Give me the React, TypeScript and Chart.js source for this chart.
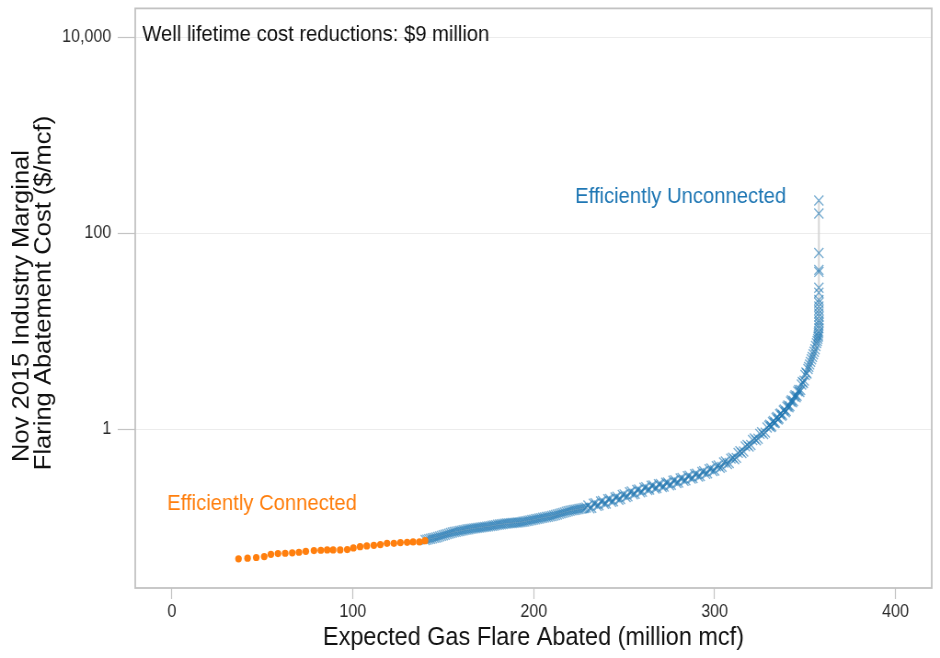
import React, { useEffect, useRef } from 'react';
import { Chart, registerables } from 'chart.js';

Chart.register(...registerables);

// ---------- data ----------
const X_TICKS = [0, 100, 200, 300, 400];
const Y_TICKS = [1, 100, 10000];

const CONNECTED_X = [36.8, 41.8, 46.6, 51.0, 54.7, 58.6, 62.6, 66.5, 70.2, 74.0, 78.5, 82.3, 85.8, 89.1, 93.0, 96.9, 100.3, 104.0, 107.7, 111.6, 115.2, 118.9, 122.7, 126.3, 130.0, 133.3, 136.8, 139.9];
const CONNECTED_Y = [0.0479, 0.0486, 0.0494, 0.0505, 0.0533, 0.0542, 0.0546, 0.0551, 0.0559, 0.0572, 0.0582, 0.0586, 0.0591, 0.0591, 0.0591, 0.0595, 0.0619, 0.0638, 0.0649, 0.0658, 0.0669, 0.0690, 0.0690, 0.0701, 0.0706, 0.0712, 0.0712, 0.0734];

const UNCONNECTED_X = [
  140, 141, 142, 143, 144, 145, 146, 147, 148, 149,
  150, 151, 152, 153, 154, 155, 156, 157, 158, 159,
  160, 161, 162, 163, 164, 165, 166, 167, 168, 169,
  170, 171, 172, 173, 174, 175, 176, 177, 178, 179,
  180, 181, 182, 183, 184, 185, 186, 187, 188, 189,
  190, 191, 192, 193, 194, 195, 196, 197, 198, 199,
  200, 201, 202, 203, 204, 205, 206, 207, 208, 209,
  210, 211, 212, 213, 214, 215, 216, 217, 218, 219,
  220, 221, 222, 223, 224, 225, 226, 227, 228, 229,
  230, 231, 232, 233, 234, 235, 236, 237, 238, 239,
  240, 241, 242, 243, 244, 245, 246, 247, 248, 249,
  250, 251, 252, 253, 254, 255, 256, 257, 258, 259,
  260, 261, 262, 263, 264, 265, 266, 267, 268, 269,
  270, 271, 272, 273, 274, 275, 276, 277, 278, 279,
  280, 281, 282, 283, 284, 285, 286, 287, 288, 289,
  290, 291, 292, 293, 294, 295, 296, 297, 298, 299,
  300, 301, 302, 303, 304, 305, 306, 307, 308, 309,
  310, 311, 312, 313, 314, 315, 316, 317, 318, 319,
  320, 321, 322, 323, 324, 325, 326, 327, 328, 329,
  330, 330.5, 331, 331.5, 332, 332.5, 333, 333.5, 334, 334.5,
  335, 335.5, 336, 336.5, 337, 337.5, 338, 338.5, 339, 339.5,
  340, 340.5, 341, 341.5, 342, 342.5, 343, 343.5, 344, 344.5,
  345, 345.5, 346, 346.5, 347, 347.5, 348, 348.5, 349, 349.5,
  350, 350.5, 351, 351.6, 352, 352.5, 353, 353.5, 354, 354.5,
  355, 355.5, 355.9, 356.3, 356.7, 357.0, 357.2, 357.3, 357.4, 357.5,
  357.6, 357.6, 357.7, 357.7, 357.7, 357.6, 357.6, 357.6, 357.6, 357.6,
  357.6, 357.6, 357.6, 357.6, 357.6, 357.6, 357.6
];
const UNCONNECTED_Y = [
  0.0746, 0.0753, 0.0761, 0.0768, 0.0776, 0.0783, 0.0791, 0.0801, 0.0811, 0.0822,
  0.0833, 0.0844, 0.0855, 0.0866, 0.0878, 0.0888, 0.0899, 0.0906, 0.0914, 0.0922,
  0.0930, 0.0937, 0.0945, 0.0953, 0.0961, 0.0967, 0.0974, 0.0980, 0.0986, 0.0991,
  0.0997, 0.1003, 0.1009, 0.1014, 0.1020, 0.1027, 0.1034, 0.1041, 0.1049, 0.1057,
  0.1065, 0.1072, 0.1080, 0.1087, 0.1094, 0.1098, 0.1103, 0.1107, 0.1112, 0.1116,
  0.1121, 0.1124, 0.1127, 0.1135, 0.1144, 0.1153, 0.1163, 0.1173, 0.1183, 0.1193,
  0.1203, 0.1213, 0.1224, 0.1234, 0.1245, 0.1256, 0.1267, 0.1278, 0.1289, 0.1300,
  0.1312, 0.1327, 0.1342, 0.1359, 0.1376, 0.1393, 0.1410, 0.1428, 0.1446, 0.1464,
  0.1482, 0.1494, 0.1507, 0.1519, 0.1532, 0.1544, 0.1557, 0.1569, 0.1582, 0.1597,
  0.168, 0.157, 0.159, 0.175, 0.177, 0.166, 0.168, 0.184, 0.187, 0.174,
  0.176, 0.194, 0.196, 0.183, 0.185, 0.203, 0.206, 0.192, 0.195, 0.215,
  0.218, 0.205, 0.208, 0.229, 0.233, 0.218, 0.221, 0.242, 0.245, 0.229,
  0.232, 0.254, 0.258, 0.241, 0.244, 0.267, 0.269, 0.250, 0.253, 0.276,
  0.278, 0.259, 0.261, 0.286, 0.288, 0.270, 0.273, 0.300, 0.304, 0.284,
  0.288, 0.316, 0.320, 0.300, 0.303, 0.333, 0.337, 0.315, 0.319, 0.349,
  0.354, 0.331, 0.335, 0.369, 0.375, 0.352, 0.358, 0.394, 0.400, 0.376,
  0.382, 0.421, 0.429, 0.406, 0.415, 0.460, 0.471, 0.445, 0.455, 0.504,
  0.516, 0.495, 0.513, 0.577, 0.599, 0.575, 0.597, 0.672, 0.697, 0.669,
  0.694, 0.781, 0.810, 0.776, 0.804, 0.903, 0.936, 0.897, 0.929, 1.049,
  1.09, 1.12, 1.06, 1.08, 1.19, 1.22, 1.16, 1.18, 1.31, 1.34,
  1.26, 1.29, 1.43, 1.46, 1.38, 1.41, 1.56, 1.60, 1.50, 1.54,
  1.71, 1.76, 1.68, 1.73, 1.93, 1.99, 1.89, 1.95, 2.17, 2.24,
  2.13, 2.20, 2.45, 2.53, 2.41, 2.53, 2.88, 3.05, 2.98, 3.15,
  3.60, 3.81, 3.72, 4.14, 4.35, 4.61, 4.9, 5.20, 5.5, 5.85,
  6.2, 6.59, 7.1, 7.6, 8.0, 8.4, 8.8, 9.1, 9.6, 10.0,
  10.8, 11.5, 12.3, 13.0, 14.2, 15.3, 16.5, 18.0, 19.6, 21.0,
  24.8, 27.9, 40.5, 42.5, 63.1, 160, 217
];

const NOTE = 'Well lifetime cost reductions: $9 million';
const LABEL_CONNECTED = 'Efficiently Connected';
const LABEL_UNCONNECTED = 'Efficiently Unconnected';
const X_TITLE = 'Expected Gas Flare Abated (million mcf)';
const Y_TITLE = ['Nov 2015 Industry Marginal', 'Flaring Abatement Cost ($/mcf)'];

// ---------- style ----------
const FONT = "'Liberation Sans', Arial, Helvetica, sans-serif";
const ORANGE = '#ff7f0e';
const BLUE = '#1f77b4';
const CANVAS_W = 1022; // drawn wide, shown at 940px (reference is horizontally squeezed)
const CANVAS_H = 658;

const ANNOTATIONS = [
  { text: NOTE, x: -16.4, y: 10700, color: '#111111' },
  { text: LABEL_UNCONNECTED, x: 222.9, y: 234, color: BLUE },
  { text: LABEL_CONNECTED, x: -2.6, y: 0.172, color: ORANGE },
];

// canvas-pixel centres of the two rotated y-title lines
const Y_TITLE_POS = [
  { x: 23.9, y: 306 },
  { x: 47.6, y: 293 },
];

const framePlugin = {
  id: 'frameAndNotes',
  beforeDatasetsDraw(chart: any) {
    const { ctx, chartArea: a } = chart;
    ctx.save();
    ctx.strokeStyle = '#c2c2c2';
    ctx.lineWidth = 1.8;
    ctx.strokeRect(a.left, a.top, a.right - a.left, a.bottom - a.top);
    ctx.restore();
  },
  afterDatasetsDraw(chart: any) {
    const { ctx } = chart;
    const xs = chart.scales.x;
    const ys = chart.scales.y;
    ctx.save();
    ctx.font = `22px ${FONT}`;
    ctx.textAlign = 'left';
    ctx.textBaseline = 'middle';
    for (const a of ANNOTATIONS) {
      ctx.fillStyle = a.color;
      ctx.fillText(a.text, xs.getPixelForValue(a.x), ys.getPixelForValue(a.y));
    }
    ctx.restore();
  },
  afterDraw(chart: any) {
    const { ctx } = chart;
    ctx.save();
    ctx.font = `25.5px ${FONT}`;
    ctx.fillStyle = '#111111';
    ctx.textAlign = 'center';
    ctx.textBaseline = 'middle';
    Y_TITLE.forEach((line, i) => {
      const p = Y_TITLE_POS[i];
      ctx.save();
      ctx.translate(p.x, p.y);
      ctx.rotate(-Math.PI / 2);
      ctx.fillText(line, 0, 0);
      ctx.restore();
    });
    ctx.restore();
  },
};

export default function App() {
  const ref = useRef<HTMLCanvasElement>(null);

  useEffect(() => {
    document.body.style.margin = '0';
    const canvas = ref.current!;
    const chart = new Chart(canvas, {
      type: 'scatter',
      data: {
        datasets: [
          {
            label: 'Efficiently Connected',
            data: CONNECTED_X.map((x, i) => ({ x, y: CONNECTED_Y[i] })),
            pointStyle: 'circle',
            pointRadius: 3.6,
            pointBackgroundColor: ORANGE,
            pointBorderColor: ORANGE,
            pointBorderWidth: 0,
            showLine: false,
          },
          {
            label: 'Efficiently Unconnected',
            data: UNCONNECTED_X.map((x, i) => ({ x, y: UNCONNECTED_Y[i] })),
            pointStyle: 'crossRot',
            pointRadius: 7,
            pointBorderColor: 'rgba(31,119,180,0.58)',
            pointBackgroundColor: 'rgba(0,0,0,0)',
            pointBorderWidth: 1.4,
            showLine: true,
            borderColor: '#d6d6d6',
            borderWidth: 2,
            fill: false,
            tension: 0,
          },
        ],
      },
      options: {
        responsive: false,
        devicePixelRatio: 1,
        animation: false,
        events: [],
        layout: { padding: { left: 0, right: 9, top: 3, bottom: 0 } },
        plugins: {
          legend: { display: false },
          tooltip: { enabled: false },
        },
        scales: {
          x: {
            type: 'linear',
            min: -20.3,
            max: 420,
            afterBuildTicks: (s: any) => {
              s.ticks = X_TICKS.map((v) => ({ value: v }));
            },
            afterFit: (s: any) => {
              s.height = 70;
              s.paddingLeft = 0;
              s.paddingRight = 0;
              s.paddingTop = 0;
              s.paddingBottom = 0;
            },
            grid: {
              drawOnChartArea: false,
              drawTicks: true,
              tickLength: 11,
              tickColor: '#c4c4c4',
              tickWidth: 1.2,
            },
            border: { display: false },
            ticks: {
              font: { family: FONT, size: 17.5 },
              color: '#2a2a2a',
              padding: 3,
              maxRotation: 0,
              autoSkip: false,
            },
            title: {
              display: true,
              text: X_TITLE,
              font: { family: FONT, size: 25.5 },
              color: '#111111',
              padding: { top: 0, bottom: 5 },
            },
          },
          y: {
            type: 'logarithmic',
            min: 0.02414,
            max: 19770,
            afterBuildTicks: (s: any) => {
              s.ticks = Y_TICKS.map((v) => ({ value: v }));
            },
            afterFit: (s: any) => {
              s.width = 147;
              s.paddingLeft = 0;
              s.paddingRight = 0;
              s.paddingTop = 0;
              s.paddingBottom = 0;
            },
            grid: {
              color: '#ececec',
              lineWidth: 1,
              drawTicks: true,
              tickLength: 19,
              tickColor: '#c4c4c4',
              tickWidth: 1.2,
            },
            border: { display: false },
            ticks: {
              font: { family: FONT, size: 17.5 },
              color: '#2a2a2a',
              padding: 7,
              autoSkip: false,
              callback: (v: any) => Number(v).toLocaleString('en-US'),
            },
            title: { display: false },
          },
        },
      } as any,
      plugins: [framePlugin],
    });
    return () => chart.destroy();
  }, []);

  return (
    <div style={{ width: 940, height: 658, overflow: 'hidden' }}>
      <canvas
        ref={ref}
        width={CANVAS_W}
        height={CANVAS_H}
        style={{ width: '940px', height: '658px', display: 'block' }}
      />
    </div>
  );
}
